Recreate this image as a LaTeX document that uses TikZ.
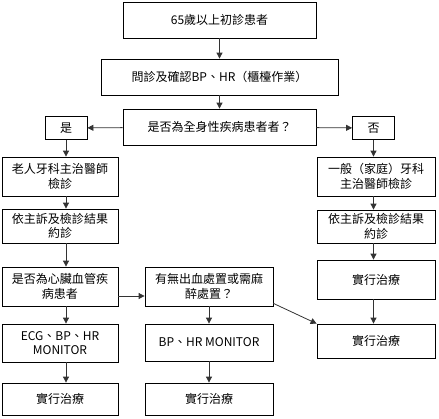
\documentclass[tikz,border=0pt]{standalone}
\usepackage{fontspec}
\setmainfont{Noto Sans CJK TC}
\usetikzlibrary{positioning,arrows.meta}

\begin{document}
\begin{tikzpicture}[x=1pt,y=-1pt,
  box/.style={draw=black,line width=0.8pt,align=center,inner sep=1pt,
    font=\fontsize{12}{14.5}\selectfont},
  arr/.style={draw=black!80,line width=0.8pt,-{Triangle[length=6pt,width=6pt]}}]
%
\useasboundingbox (0,0) rectangle (439,418);
%
\node[box,minimum width=193pt,minimum height=36pt] (start) at (219.5,20) {65歲以上初診患者};
\node[box,minimum width=237pt,minimum height=36pt] (ask) at (219.5,77) {問診及確認BP、HR（櫃檯作業）};
\node[box,minimum width=193pt,minimum height=36pt] (sys) at (219.5,127) {是否為全身性疾病患者者？};
\node[box,minimum width=42pt,minimum height=23pt] (yes) at (66,128) {是};
\node[box,minimum width=42pt,minimum height=23pt] (no) at (373.5,128) {否};
%
\node[box,minimum width=116pt,minimum height=39pt] (old) at (60,176.5) {老人牙科主治醫師\\檢診};
\node[box,minimum width=116pt,minimum height=34pt] (lappt) at (60,226) {依主訴及檢診結果\\約診};
\node[box,minimum width=116pt,minimum height=39pt] (heart) at (60,286.5) {是否為心臟血管疾\\病患者};
\node[box,minimum width=116pt,minimum height=38pt] (ecg) at (60,343) {ECG、BP、HR\\MONITOR};
\node[box,minimum width=116pt,minimum height=32pt] (ltreat) at (60,399) {實行治療};
%
\node[box,minimum width=128pt,minimum height=39pt] (bleed) at (209,286.5) {有無出血處置或需麻\\醉處置？};
\node[box,minimum width=128pt,minimum height=37pt] (bphr) at (209,342.5) {BP、HR MONITOR};
\node[box,minimum width=128pt,minimum height=32pt] (mtreat) at (209,399) {實行治療};
%
\node[box,minimum width=118pt,minimum height=39pt] (gen) at (376,176.5) {一般（家庭）牙科\\主治醫師檢診};
\node[box,minimum width=118pt,minimum height=33pt] (rappt) at (376,226.5) {依主訴及檢診結果\\約診};
\node[box,minimum width=118pt,minimum height=39pt] (rtreat) at (376,279.5) {實行治療};
\node[box,minimum width=118pt,minimum height=34pt] (rdone) at (376,341) {實行治療};
%
\draw[arr] (start) -- (ask);
\draw[arr] (ask) -- (sys);
\draw[arr] (sys) -- (yes);
\draw[arr] (sys) -- (no);
%
\draw[arr] (yes) -- (yes |- old.north);
\draw[arr] (old.south -| yes) -- (yes |- lappt.north);
\draw[arr] (lappt.south -| yes) -- (yes |- heart.north);
\draw[arr] (heart.south -| yes) -- (yes |- ecg.north);
\draw[arr] (ecg.south -| yes) -- (yes |- ltreat.north);
\draw[arr] ([yshift=-9.5pt]heart.east) -- ([yshift=-9.5pt]heart.east -| bleed.west);
%
\draw[arr] (bleed) -- (bphr);
\draw[arr] (bphr) -- (mtreat);
\draw[arr] ([yshift=3pt]bleed.south east) -- (rdone.north west);
%
\draw[arr] (no) -- (no |- gen.north);
\draw[arr] (gen.south -| no) -- (no |- rappt.north);
\draw[arr] (rappt.south -| no) -- (no |- rtreat.north);
\draw[arr] (rtreat.south -| no) -- (no |- rdone.north);
\end{tikzpicture}
\end{document}
